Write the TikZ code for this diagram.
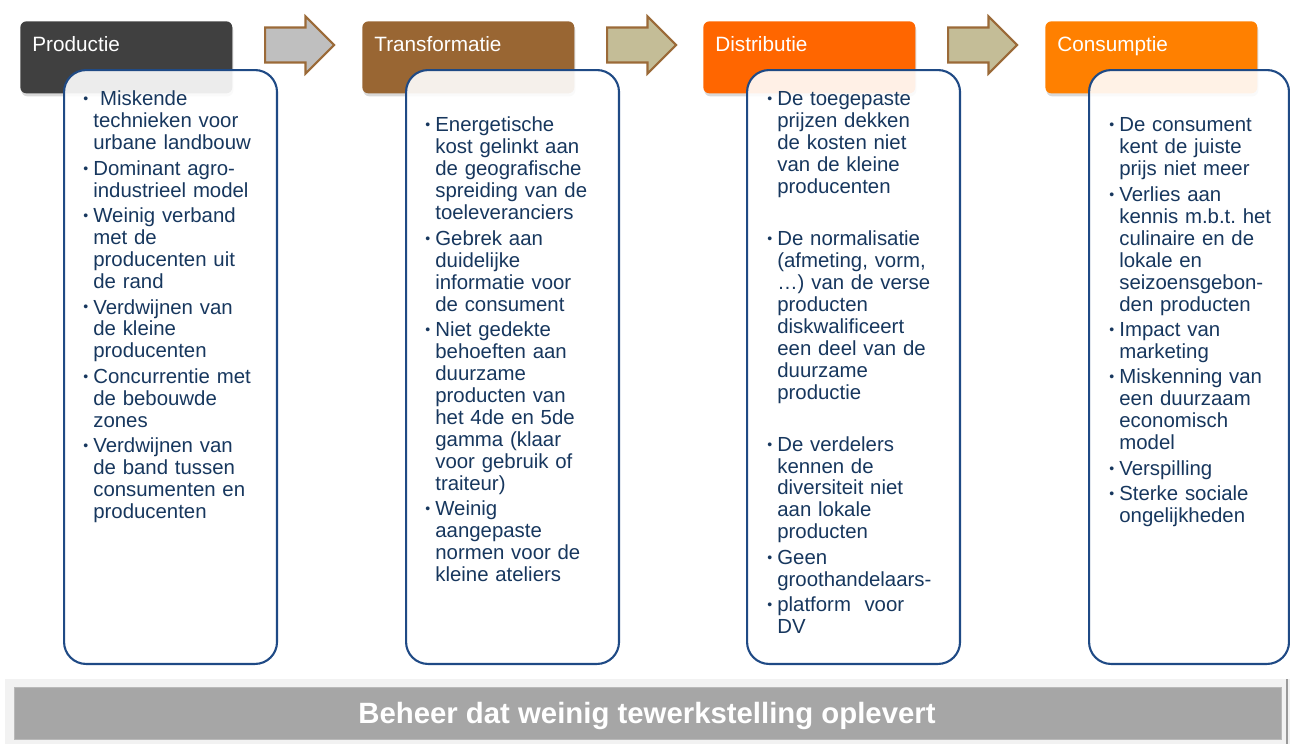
\documentclass[tikz,border=0pt]{standalone}
\usepackage{fontspec}
\setmainfont{Liberation Sans}
\usepackage{tikz}
\usetikzlibrary{shapes.arrows,shadows}

\definecolor{prodgray}{HTML}{404040}
\definecolor{transbrown}{HTML}{996633}
\definecolor{distorange}{HTML}{FF6600}
\definecolor{consorange}{HTML}{FF8000}
\definecolor{arrowgray}{HTML}{BFBFBF}
\definecolor{arrowtan}{HTML}{C4BD97}
\definecolor{arrowrim}{HTML}{9B6A38}
\definecolor{boxblue}{HTML}{1F4A85}
\definecolor{textblue}{HTML}{17375E}
\definecolor{barlight}{HTML}{F2F2F2}
\definecolor{bargray}{HTML}{A6A6A6}

\newcommand{\smallbul}{\raisebox{0.1em}{\fontsize{8}{8}\selectfont\textbullet}}
\newcommand{\itm}{\par\hangindent=0.2cm\hangafter=1\noindent\makebox[0.2cm][l]{\smallbul}}

\tikzset{
	headbox/.style={rounded corners=0.12cm, minimum width=4.24cm, minimum height=1.44cm, anchor=north west, drop shadow={shadow xshift=0.02cm, shadow yshift=-0.06cm, opacity=0.3}},
	headlabel/.style={anchor=base west, text=white, font=\fontsize{11.8}{14}\selectfont, inner sep=0pt},
	infobox/.style={draw=boxblue, line width=1.2pt, rounded corners=0.44cm, fill=white, fill opacity=0.9, minimum width=4.26cm, minimum height=11.88cm, anchor=north west},
	infotext/.style={anchor=north west, text width=3.9cm, align=left, inner sep=0pt, text=textblue, font=\fontsize{11.6}{12.5}\selectfont, execute at begin node={\setlength{\parskip}{2pt}\frenchspacing}},
	blockarrow/.style={single arrow, draw=arrowrim, line width=1.2pt, minimum height=1.38cm, minimum width=1.12cm, single arrow head extend=0.22cm, inner xsep=0pt, inner ysep=0.33cm, anchor=tail}
}

\begin{document}
\begin{tikzpicture}[x=0.02cm, y=-0.02cm]
	\useasboundingbox (0,0) rectangle (1290,744);

	% Header boxes
	\node (prodhead) at (20,21) [headbox, fill=prodgray] {};
	\node (transhead) at (362,21) [headbox, fill=transbrown] {};
	\node (disthead) at (703,21) [headbox, fill=distorange] {};
	\node (conshead) at (1045,21) [headbox, fill=consorange] {};
	\node (prodlabel) at (32,51.5) [headlabel] {Productie};
	\node (translabel) at (374,51.5) [headlabel] {Transformatie};
	\node (distlabel) at (715,51.5) [headlabel] {Distributie};
	\node (conslabel) at (1057,51.5) [headlabel] {Consumptie};

	% Arrows between the steps
	\node (arrowA) at (264,45) [blockarrow, fill=arrowgray] {};
	\node (arrowB) at (606,45) [blockarrow, fill=arrowtan] {};
	\node (arrowC) at (947,45) [blockarrow, fill=arrowtan] {};

	% Content boxes
	\node (prodbox) at (63,69) [infobox] {};
	\node (transbox) at (405,69) [infobox] {};
	\node (distbox) at (746,69) [infobox] {};
	\node (consbox) at (1088,69) [infobox, minimum width=4cm] {};

	%Productie
	\node (prodtext) at (83,80) [infotext] {%
		\itm\ Miskende\newline technieken voor\newline urbane landbouw
		\itm Dominant agro-\newline industrieel model
		\itm Weinig verband\newline met de\newline producenten uit\newline de rand
		\itm Verdwijnen van\newline de kleine\newline producenten
		\itm Concurrentie met\newline de bebouwde\newline zones
		\itm Verdwijnen van\newline de band tussen\newline consumenten en\newline producenten\par};
	%Transformatie
	\node (transtext) at (425,106) [infotext] {%
		\itm Energetische\newline kost gelinkt aan\newline de geografische\newline spreiding van de\newline toeleveranciers
		\itm Gebrek aan\newline duidelijke\newline informatie voor\newline de consument
		\itm Niet gedekte\newline behoeften aan\newline duurzame\newline producten van\newline het 4de en 5de\newline gamma (klaar\newline voor gebruik of\newline traiteur)
		\itm Weinig\newline aangepaste\newline normen voor de\newline kleine ateliers\par};
	%Distributie
	\node (disttext) at (767,80) [infotext] {%
		\itm De toegepaste\newline prijzen dekken\newline de kosten niet\newline van de kleine\newline producenten
		\par\vspace{15pt}
		\itm De normalisatie\newline (afmeting, vorm,\newline …) van de verse\newline producten\newline diskwalificeert\newline een deel van de\newline duurzame\newline productie
		\par\vspace{15pt}
		\itm De verdelers\newline kennen de\newline diversiteit niet\newline aan lokale\newline producten
		\itm Geen\newline groothandelaars-
		\itm platform\ \ voor\newline DV\par};
	%Consumptie
	\node (constext) at (1109,106) [infotext] {%
		\itm De consument\newline kent de juiste\newline prijs niet meer
		\itm Verlies aan\newline kennis m.b.t. het\newline culinaire en de\newline lokale en\newline seizoensgebon-\newline den producten
		\itm Impact van\newline marketing
		\itm Miskenning van\newline een duurzaam\newline economisch\newline model
		\itm Verspilling
		\itm Sterke sociale\newline ongelijkheden\par};

	% Bottom bar
	\fill[barlight] (5,679) rectangle (1290,744);
	\fill[bargray, draw=gray!55, line width=0.5pt] (14,687) rectangle (1281,739);
	\draw[gray!80, line width=1pt] (1287,679) -- (1287,744);
	\node (bartext) at (647,723) [anchor=base, text=white, font=\fontsize{16.7}{19}\selectfont\bfseries, inner sep=0pt] {Beheer dat weinig tewerkstelling oplevert};

\end{tikzpicture}
\end{document}
